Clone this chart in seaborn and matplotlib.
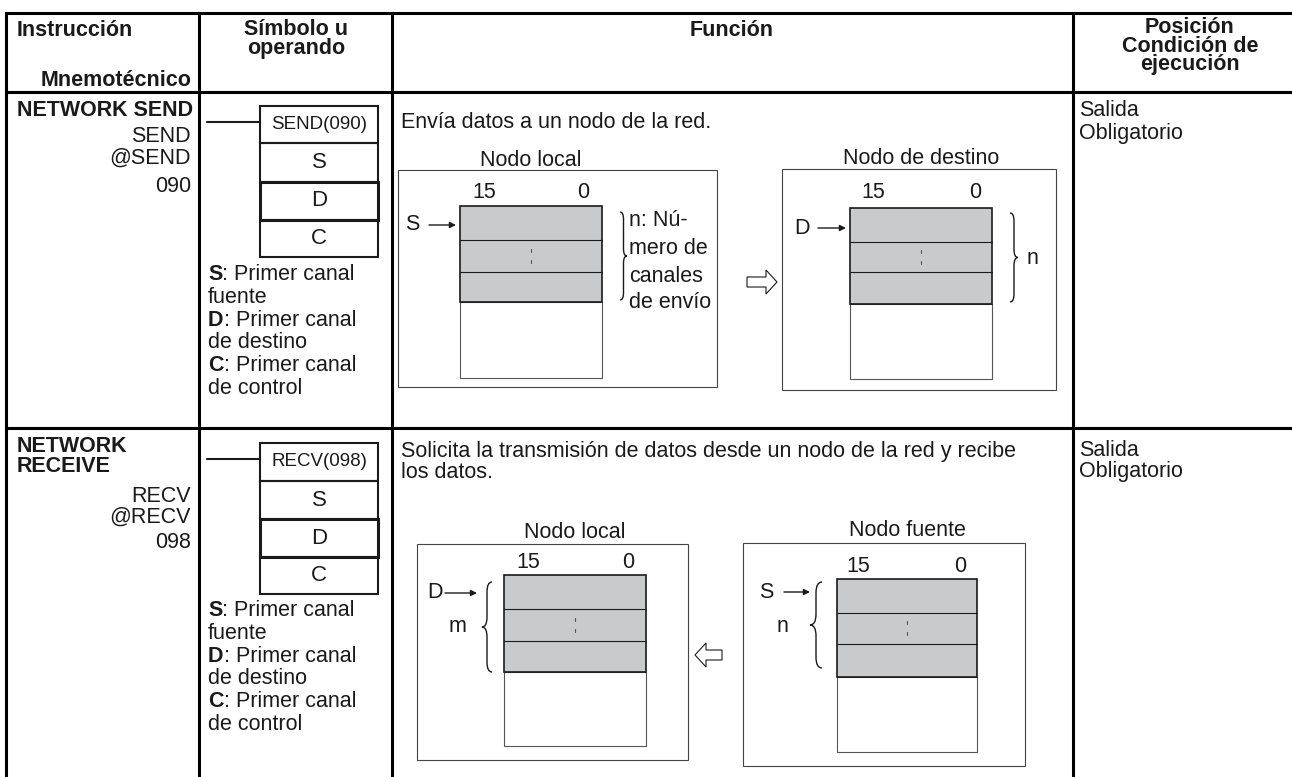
import matplotlib
matplotlib.use("Agg")
import matplotlib.pyplot as plt
import seaborn as sns
from matplotlib.path import Path
from matplotlib.patches import PathPatch, Rectangle, Polygon

sns.set_style("white")
plt.rcParams["font.family"] = ["Liberation Sans", "DejaVu Sans"]

# ---- table text ----
hdr_instr = ["Instrucción", "Mnemotécnico"]
hdr_symbol = ["Símbolo u", "operando"]
hdr_func = ["Función"]
hdr_cond = ["Posición", "Condición de", "ejecución"]

instr_names = [["NETWORK SEND"], ["NETWORK", "RECEIVE"]]
mnemonics = [["SEND", "@SEND", "090"], ["RECV", "@RECV", "098"]]
symbols = ["SEND(090)", "RECV(098)"]
operands = ["S", "D", "C"]
operand_desc = [["S", ": Primer canal", "fuente"],
                ["D", ": Primer canal", "de destino"],
                ["C", ": Primer canal", "de control"]]
functions = [["Envía datos a un nodo de la red."],
             ["Solicita la transmisión de datos desde un nodo de la red y recibe",
              "los datos."]]
conditions = [["Salida", "Obligatorio"], ["Salida", "Obligatorio"]]
node_titles = [["Nodo local", "Nodo de destino"], ["Nodo local", "Nodo fuente"]]
bit_labels = ["15", "0"]
send_note = ["n: Nú-", "mero de", "canales", "de envío"]
pointers = [["S", "D"], ["D", "S"]]
brace_labels = [["", "n"], ["m", "n"]]

W, H = 1292, 777
INK = "#1a1a1a"
GREY = "#c9cacc"
FS = 15.5

fig = plt.figure(figsize=(W / 100, H / 100), dpi=100)
ax = fig.add_axes([0, 0, 1, 1])
ax.set_xlim(0, W)
ax.set_ylim(H, 0)
ax.axis("off")
renderer = fig.canvas.get_renderer()


def txt(x, y, s, size=FS, weight="normal", ha="left", ls=1.2):
    return ax.text(x, y, s, fontsize=size, fontweight=weight, ha=ha, va="center",
                   color=INK, linespacing=ls, multialignment=ha)


def brace(x, y0, y1, w, facing="right", lw=1.0):
    s = 1 if facing == "right" else -1
    xm = x + s * w / 2
    xt = x + s * w
    ym = (y0 + y1) / 2
    r = min(w, (y1 - y0) / 8)
    verts = [(x, y0), (xm, y0), (xm, y0 + r), (xm, ym - r), (xm, ym), (xt, ym),
             (xm, ym), (xm, ym + r), (xm, y1 - r), (xm, y1), (x, y1)]
    codes = [Path.MOVETO, Path.CURVE3, Path.CURVE3, Path.LINETO, Path.CURVE3, Path.CURVE3,
             Path.CURVE3, Path.CURVE3, Path.LINETO, Path.CURVE3, Path.CURVE3]
    ax.add_patch(PathPatch(Path(verts, codes), fc="none", ec=INK, lw=lw))


def small_arrow(x0, x1, y):
    ax.annotate("", xy=(x1, y), xytext=(x0, y),
                arrowprops=dict(arrowstyle="-|>", color=INK, lw=1.0, mutation_scale=9,
                                shrinkA=0, shrinkB=0))


def block_arrow(x0, x1, yc, direction):
    hl, sh, hh = 11, 5, 12
    if direction == "right":
        pts = [(x0, yc - sh), (x1 - hl, yc - sh), (x1 - hl, yc - hh), (x1, yc),
               (x1 - hl, yc + hh), (x1 - hl, yc + sh), (x0, yc + sh)]
    else:
        pts = [(x1, yc - sh), (x0 + hl, yc - sh), (x0 + hl, yc - hh), (x0, yc),
               (x0 + hl, yc + hh), (x0 + hl, yc + sh), (x1, yc + sh)]
    ax.add_patch(Polygon(pts, closed=True, fc="white", ec=INK, lw=0.8))


def node(box, bx, edges, title, title_y, bits_y, bit_x):
    x0, y0, x1, y1 = box
    ax.add_patch(Rectangle((x0, y0), x1 - x0, y1 - y0, fc="none", ec="#444444", lw=0.8))
    # white lower part
    ax.add_patch(Rectangle((bx[0], edges[3]), bx[1] - bx[0], edges[4] - edges[3],
                           fc="white", ec="#555555", lw=0.8))
    # grey channels
    ax.add_patch(Rectangle((bx[0], edges[0]), bx[1] - bx[0], edges[3] - edges[0],
                           fc=GREY, ec=INK, lw=1.2, zorder=3))
    for e in edges[1:3]:
        ax.plot([bx[0], bx[1]], [e, e], color=INK, lw=0.8, zorder=4)
    xc = (bx[0] + bx[1]) / 2
    ym = (edges[1] + edges[2]) / 2
    for dy in (-6, 5):
        ax.plot([xc, xc], [ym + dy - 1.5, ym + dy + 1.5], color="#555555", lw=0.8, zorder=4)
    txt(xc, title_y, title, ha="center")
    txt(bit_x[0], bits_y, bit_labels[0], ha="center")
    txt(bit_x[1], bits_y, bit_labels[1], ha="center")


# ---- table grid ----
TLW = 2.2
top, hdr_line, row_tops = 13, 92, [92, 428]
for x in [6, 199, 392, 1073]:
    ax.plot([x, x], [top, H + 5], color="black", lw=TLW, solid_capstyle="projecting")
for y in [top, hdr_line, row_tops[1]]:
    ax.plot([6, W + 5], [y, y], color="black", lw=TLW, solid_capstyle="projecting")

# ---- header (tight leading, one text per cell) ----
txt(17, 31, hdr_instr[0], weight="bold")
txt(191, 80, hdr_instr[1], weight="bold", ha="right")
txt(296, 39, "\n".join(hdr_symbol), weight="bold", ha="center", ls=0.88)
txt(732, 30, hdr_func[0], weight="bold", ha="center")
txt(1190, 46, "\n".join(hdr_cond), weight="bold", ha="center", ls=0.86)

# ---- column 1 ----
name_y = [[111], [446, 467]]
mnem_y = [[137, 158, 186], [496, 517, 543]]
for i in range(2):
    for s, y in zip(instr_names[i], name_y[i]):
        txt(17, y, s, weight="bold")
    for s, y in zip(mnemonics[i], mnem_y[i]):
        txt(191, y, s, ha="right")

# ---- column 2: ladder symbol ----
box_edges = [[106, 143, 182, 220, 257], [443, 481, 519, 557, 594]]
desc_top = [275, 611]
for i in range(2):
    e = box_edges[i]
    ax.plot([207, 260], [(e[0] + e[1]) / 2 - 3] * 2, color=INK, lw=1.5)
    for k in range(4):
        lw = 2.2 if k == 2 else 1.5
        ax.add_patch(Rectangle((260, e[k]), 118, e[k + 1] - e[k], fc="none", ec=INK, lw=lw,
                               zorder=3 if k == 2 else 2))
    txt(319, (e[0] + e[1]) / 2, symbols[i], size=13.5, ha="center")
    for k, s in enumerate(operands):
        txt(319, (e[k + 1] + e[k + 2]) / 2, s, size=16, ha="center")
    y = desc_top[i]
    for letter, rest, second in operand_desc:
        t = txt(208, y, letter, weight="bold")
        wpx = t.get_window_extent(renderer=renderer).width
        txt(208 + wpx, y, rest)
        txt(208, y + 22.6, second)
        y += 45.2

# ---- column 3: function ----
func_y = [[122], [452, 472]]
for i in range(2):
    for s, y in zip(functions[i], func_y[i]):
        txt(401, y, s)

# row 1 diagrams
node((398, 170, 717, 387), (460, 602), [206, 240, 272, 302, 378], node_titles[0][0], 160, 192, (484, 583))
txt(412, 225, pointers[0][0], ha="center")
small_arrow(429, 456, 225)
brace(620, 212, 300, 7, "right")
for s, y in zip(send_note, [221, 249, 276, 302]):
    txt(629, y, s)
block_arrow(747, 777, 282, "right")

node((782, 169, 1056, 390), (850, 992), [208, 242, 272, 304, 379], node_titles[0][1], 158, 193, (873, 975))
txt(802, 228, pointers[0][1], ha="center")
small_arrow(818, 846, 228)
brace(1010, 213, 302, 8, "right")
txt(1027, 258, brace_labels[0][1])

# row 2 diagrams
node((417, 544, 688, 760), (504, 646), [575, 609, 641, 672, 746], node_titles[1][0], 532, 562, (528, 628))
txt(435, 593, pointers[1][0], ha="center")
small_arrow(445, 477, 593)
brace(492, 582, 672, 10, "left")
txt(458, 627, brace_labels[1][0], ha="center")
block_arrow(695, 722, 655, "left")

node((743, 543, 1025, 766), (837, 977), [579, 613, 644, 677, 752], node_titles[1][1], 530, 567, (858, 960))
txt(766, 592, pointers[1][1], ha="center")
small_arrow(784, 810, 592)
brace(822, 582, 668, 12, "left")
txt(782, 627, brace_labels[1][1], ha="center")

# ---- column 4 ----
cond_y = [[111, 133], [450, 472]]
for i in range(2):
    for s, y in zip(conditions[i], cond_y[i]):
        txt(1079, y, s)

fig.savefig("out.png", dpi=100, facecolor="white")
